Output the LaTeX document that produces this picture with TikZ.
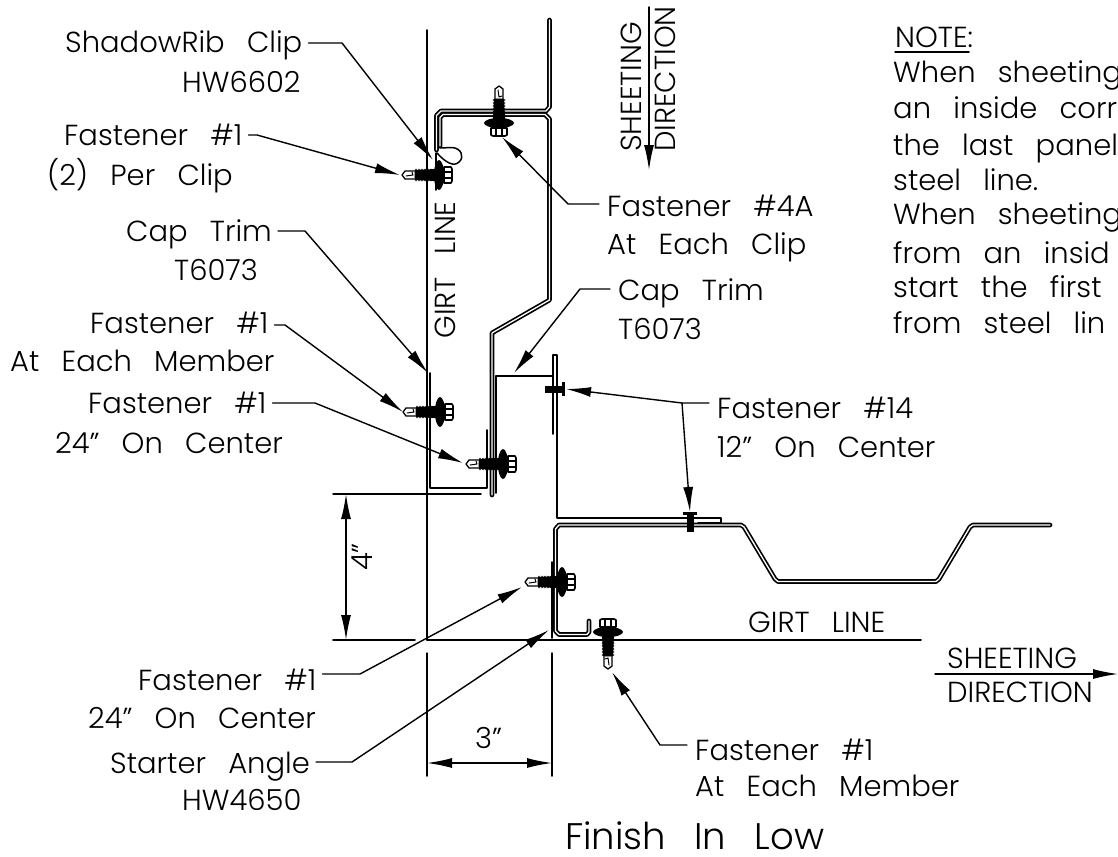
\documentclass[tikz,border=0pt]{standalone}
\usepackage{fontspec}
\setmainfont{Poppins}[UprightFont=* Light, WordSpace=2.8]
\usetikzlibrary{arrows.meta, calc}
\def\LabelFont{\fontsize{29}{29}\selectfont}
\def\TitleFont{\fontsize{37}{37}\selectfont}
\tikzset{
    stripline/.style = {double = white, double distance = 1.3pt, line width = 1.7pt},
    trimline/.style = {line width = 1.9pt},
    thinline/.style = {line width = 1.5pt},
    leader/.style = {line width = 1.4pt, -{Latex[length = 25pt, width = 10pt]}},
    quotas/.style = {line width = 1.4pt, {Latex[length = 25pt, width = 10pt]}-{Latex[length = 25pt, width = 10pt]}},
    caption/.style = {inner sep = 0pt, font = \LabelFont},
    pics/screw/.style = {code = {
        % shank and tip
        \draw [line width = 1.3pt, fill = white] (-37, 0) -- (-34, -4) -- (-22, -4) -- (-22, 4) -- (-34, 4) -- cycle;
        \draw [line width = 1pt] (-33, 1) -- (-26, 0) -- (-27, -3);
        % thread
        \fill (-24, -5) -- (-4, -6) -- (-4, 6) -- (-24, 5) -- cycle;
        \foreach \t in {-23, -20, ..., -5}
            \fill (\t, 0) ellipse (1.4 and 6.5);
        % washer
        \fill (0, 0) ellipse (5 and 15);
        \fill (-4, -10) rectangle (4, 10);
        % head
        \draw [line width = 1.6pt, fill = white] (5, -8) -- (12, -8) -- (13, -6) -- (13, 6) -- (12, 8) -- (5, 8) -- cycle;
        \draw [line width = 1.2pt] (5, -3) -- (13, -3) (5, 3) -- (13, 3);
    }},
    pics/rivet/.style = {code = {
        \fill (-18, -3.5) rectangle (0, 3.5);
        \fill (-1, -7) rectangle (2, 7);
    }}
}
\begin{document}
\begin{tikzpicture}[x = 1pt, y = -1pt, line cap = round, line join = round]
        \useasboundingbox (0, 0) rectangle (1118, 856);
        %
        \def\GirtX{427}
        \def\CornerX{552}
        \def\GirtY{640}
        \def\DimX{346}
        \def\DimY{763}

        % grid and dimension lines
        \draw [thinline] (\GirtX, 30) -- (\GirtX, \GirtY) (\GirtX, 653) -- (\GirtX, 776);
        \draw [thinline] (\CornerX, 653) -- (\CornerX, 776);
        \draw [thinline] (333, 494) -- (481, 494);
        \draw [trimline] (333, \GirtY) -- (415, \GirtY) (\GirtX, \GirtY) -- (921, \GirtY);
        \coordinate (dimtop) at (\DimX, 494);
        \coordinate (dimbottom) at (\DimX, \GirtY);
        \coordinate (dimleft) at (\GirtX, \DimY);
        \coordinate (dimright) at (\CornerX, \DimY);
        \draw [quotas] (dimtop) -- (dimbottom);
        \draw [quotas] (dimleft) -- (dimright);

        % sheets
        \draw [stripline] (549.5, 20) -- (549.5, 107) -- (546, 111) -- (441, 111) -- (436.5, 115.5) -- (436.5, 150);
        \draw [stripline] (492, 495) -- (492, 333) -- (549.5, 300) -- (549.5, 119) -- (545, 114.5) -- (443, 114.5) -- (440, 117.5) -- (440, 146);
        \draw [thinline] (440, 148) -- (452, 147.5) .. controls (461, 148) and (465, 157) .. (459, 162) .. controls (454, 167) and (446, 163) .. (437, 153);
        \draw [thinline] (436, 153) -- (436, 190);
        \draw [stripline] (589, 621) -- (589, 632) -- (587, 634.5) -- (559, 634.5) -- (555.5, 631) -- (555.5, 529) -- (559, 525) -- (741, 525) -- (744, 527) -- (775, 579) -- (778, 581.5) -- (936, 581.5) -- (939, 579) -- (970, 527) -- (973, 525) -- (1050, 525);

        % cap trims
        \draw [trimline] (430, 373) -- (430, 488) -- (487, 488) -- (487, 430);
        \draw [trimline] (496, 493) -- (496, 376) -- (553, 376);
        \draw [trimline] (553, 434) -- (553, 355) -- (557, 355) -- (557, 518) -- (721, 518) -- (721, 523) -- (698, 523);
        \draw [trimline] (552, 562) -- (552, 638);
        \draw [line width = 2.6pt] (552, 640) -- (628, 640);

        % fasteners
        \foreach \sx/\sy/\rot in {439/175/0, 440/412/0, 503/464/0, 562/582/0, 608/632/90, 499/123/-90}
            \pic [rotate = \rot] at (\sx, \sy) {screw};
        \pic [rotate = 0] at (563, 389) {rivet};
        \pic [rotate = 90] at (690, 514) {rivet};

        % captions
        \foreach \lbl/\x/\y/\txt in {
            clip/65/53/{ShadowRib Clip}, clipb/182/93/{HW6602},
            pclip/64/145/{Fastener \#1}, pclipb/47/185/{(2) Per Clip},
            capl/126/241/{Cap Trim}, caplb/174/280/{T6073},
            memb/90/333/{Fastener \#1}, membb/10/371/{At Each Member},
            cent/88/413/{Fastener \#1}, centb/55/453/{24" On Center},
            low/138/690/{Fastener \#1}, lowb/88/728/{24" On Center},
            angle/110/773/{Starter Angle}, angleb/182/810/{HW4650},
            faf/607/216/{Fastener \#4A}, fafb/607/254/{At Each Clip},
            capr/618/300/{Cap Trim}, caprb/618/339/{T6073},
            ften/717/418/{Fastener \#14}, ftenb/717/457/{12" On Center},
            girt/695/760/{Fastener \#1}, girtb/695/796/{At Each Member},
            gline/748/632/{GIRT LINE},
            sheet/947/668/{SHEETING}, direct/947/702/{DIRECTION},
            threein/475/748/{3"}}
        {
            \node [caption, anchor = base west] (\lbl) at (\x, \y) {\txt};
        }
        \node [anchor = base west, inner sep = 0pt, text depth = 0pt, font = \TitleFont] (finish) at (565, 849) {Finish In Low};
        \node [caption, rotate = 90] (gliner) at (445, 270) {GIRT LINE};
        \node [caption, rotate = 90] (fourin) at (362, 557) {4"};
        \node [caption, rotate = 90, anchor = base west] (vsheet) at (641, 152) {SHEETING};
        \node [caption, rotate = 90, anchor = base west] (vdirect) at (675, 152) {DIRECTION};

        % direction arrows
        \coordinate (vstart) at (649, 7);
        \coordinate (vend) at (649, 170);
        \coordinate (hstart) at (935, 674);
        \coordinate (hend) at (1118, 674);
        \draw [leader] (vstart) -- (vend);
        \draw [leader] (hstart) -- (hend);

        % leaders
        \foreach \lbl/\kx/\ky/\tx/\ty in {
            clip/342/43/433/160, pclip/257/135/400/175, capl/305/231/428/373,
            memb/285/325/403/412, cent/315/403/463/463, low/360/674/522/587,
            angle/352/762/549/630}
        {
            \coordinate (knee\lbl) at (\kx, \ky);
            \coordinate (tip\lbl) at (\tx, \ty);
            \draw [leader] ([xshift = 6pt]\lbl.east |- knee\lbl) -- (knee\lbl) -- (tip\lbl);
        }
        \foreach \lbl/\kx/\ky/\tx/\ty in {
            faf/568/204/502/137, capr/580/289/514/373, girt/660/745/612/672}
        {
            \coordinate (knee\lbl) at (\kx, \ky);
            \coordinate (tip\lbl) at (\tx, \ty);
            \draw [leader] ([xshift = -8pt]\lbl.west |- knee\lbl) -- (knee\lbl) -- (tip\lbl);
        }
        \coordinate (kneeften) at (682, 403);
        \coordinate (tipftena) at (566, 389);
        \coordinate (tipftenb) at (690, 512);
        \draw [leader] ([xshift = -8pt]ften.west |- kneeften) -- (kneeften) -- (tipftena);
        \draw [leader] (kneeften) -- (tipftenb);

        % note
        \node [caption, anchor = base west] (note) at (895, 48) {NOTE:};
        \draw [thinline] (note.base west) ++(0, 4) -- ++(74, 0);
        \foreach \i/\y/\txt in {1/83/When sheeting, 2/118/an inside corr, 3/155/the last panel, 4/190/steel line., 5/224/When sheeting, 6/263/from an insid, 7/297/start the first, 8/333/from steel lin}
        {
            \node [caption, anchor = base west] (note\i) at (893, \y) {\txt};
        }
    \end{tikzpicture}
\end{document}
